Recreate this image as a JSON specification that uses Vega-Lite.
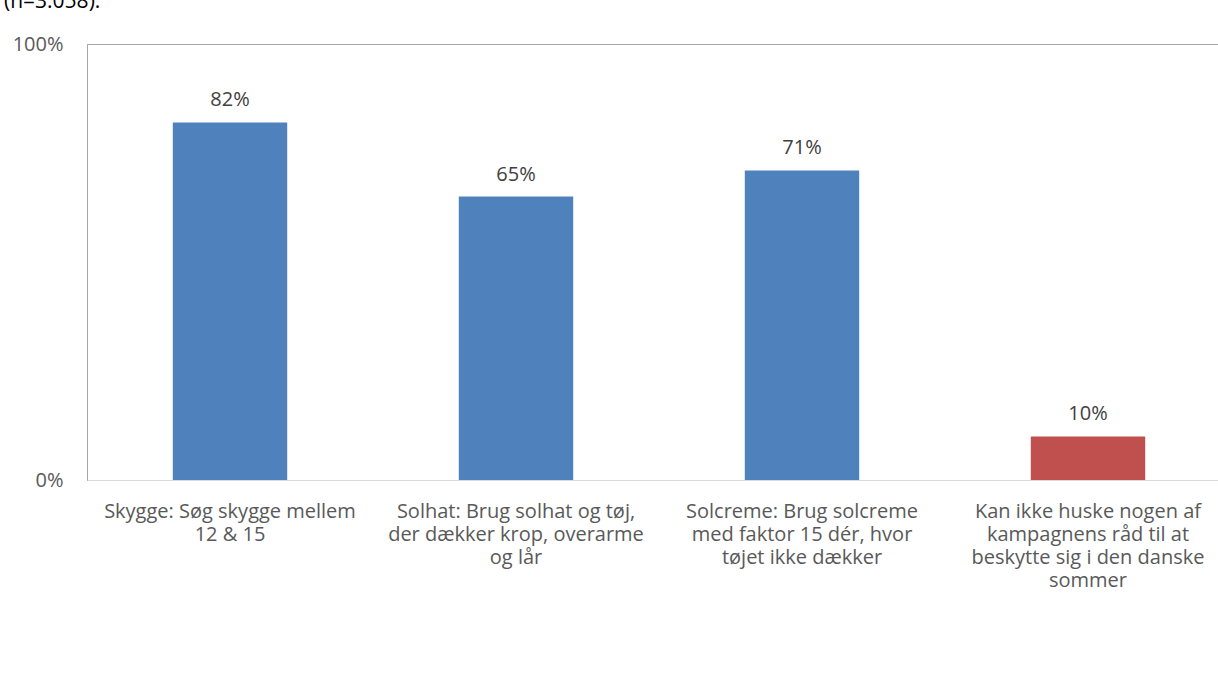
{
  "$schema": "https://vega.github.io/schema/vega-lite/v6.json",
  "width": 1131,
  "height": 436,
  "autosize": {"type": "none"},
  "padding": {"left": 87, "top": 44, "right": 0, "bottom": 205},
  "background": "white",
  "title": {
    "text": "(n=3.058).",
    "anchor": "start",
    "frame": "group",
    "orient": "top",
    "baseline": "alphabetic",
    "offset": 5,
    "dx": -83,
    "font": "Open Sans",
    "fontSize": 21,
    "fontWeight": "normal",
    "color": "#000000"
  },
  "data": {
    "values": [
      {"kategori": "Skygge: Søg skygge mellem|12 & 15", "andel": 0.82, "type": "råd"},
      {"kategori": "Solhat: Brug solhat og tøj,|der dækker krop, overarme|og lår", "andel": 0.65, "type": "råd"},
      {"kategori": "Solcreme: Brug solcreme|med faktor 15  dér, hvor|tøjet ikke dækker", "andel": 0.71, "type": "råd"},
      {"kategori": "Kan ikke huske nogen af|kampagnens råd til at|beskytte sig i den danske|sommer", "andel": 0.10, "type": "ingen"}
    ]
  },
  "encoding": {
    "x": {
      "field": "kategori",
      "type": "nominal",
      "sort": null,
      "title": null,
      "scale": {"range": [0, 1144], "paddingInner": 0.6, "paddingOuter": 0.3},
      "axis": {
        "labelAngle": 0,
        "labelExpr": "split(datum.value, '|')",
        "labelLineHeight": 23,
        "labelPadding": 21,
        "ticks": false,
        "domainColor": "#d9d9d9",
        "labelFont": "Open Sans",
        "labelFontSize": 20,
        "labelColor": "#595959",
        "labelLimit": 400
      }
    },
    "y": {
      "field": "andel",
      "type": "quantitative",
      "title": null,
      "scale": {"domain": [0, 1]},
      "axis": {
        "values": [0, 1],
        "format": ".0%",
        "grid": false,
        "ticks": false,
        "domainColor": "#a6a6a6",
        "labelPadding": 24,
        "labelFont": "Open Sans",
        "labelFontSize": 20,
        "labelColor": "#595959"
      }
    }
  },
  "layer": [
    {
      "mark": {"type": "bar"},
      "encoding": {
        "color": {
          "field": "type",
          "type": "nominal",
          "scale": {"domain": ["råd", "ingen"], "range": ["#4f81bd", "#c0504d"]},
          "legend": null
        }
      }
    },
    {
      "mark": {"type": "text", "baseline": "bottom", "dy": -12, "font": "Open Sans", "fontSize": 20, "color": "#404040"},
      "encoding": {
        "text": {"field": "andel", "type": "quantitative", "format": ".0%"}
      }
    }
  ],
  "config": {
    "view": {"stroke": "#a6a6a6"}
  }
}
